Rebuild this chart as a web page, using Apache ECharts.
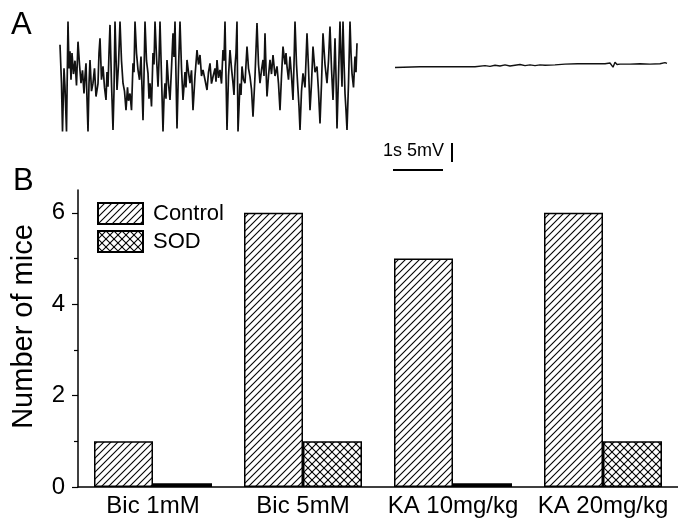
<!DOCTYPE html>
<html>
<head>
<meta charset="utf-8">
<script src="https://cdn.jsdelivr.net/npm/echarts@6/dist/echarts.min.js"></script>
<style>
  html, body { margin: 0; padding: 0; background: #fff; }
  #chart { width: 678px; height: 518px; }
</style>
</head>
<body>
<div id="chart"></div>
<script>
// panel A: EEG traces, [seconds, mV]
const controlTrace = [
  [0.00, 8.2], [0.03, -2.0], [0.05, -14.6], [0.08, 2.0], [0.10, -3.0], [0.13, -14.6],
  [0.16, 14.3], [0.18, 2.0], [0.20, 6.5], [0.22, -1.0], [0.24, 6.0], [0.27, 0.5],
  [0.30, 4.0], [0.33, -2.5], [0.36, 9.0], [0.39, 3.0], [0.42, -1.9], [0.45, 1.5],
  [0.48, -4.6], [0.50, 0.0], [0.52, 3.3], [0.54, -6.0], [0.56, -14.6], [0.58, -2.0],
  [0.60, 4.2], [0.63, -4.0], [0.66, -1.9], [0.69, 2.0], [0.72, -5.4], [0.76, -2.0],
  [0.78, 6.0], [0.80, 9.9], [0.83, -1.0], [0.86, 2.5], [0.89, -3.0], [0.92, -6.3],
  [0.94, 1.0], [0.96, -2.8], [0.98, 6.0], [1.00, 13.4], [1.03, -2.0], [1.06, -14.2],
  [1.08, -4.0], [1.10, 14.3], [1.12, 5.0], [1.14, -3.7], [1.17, 3.0], [1.20, 14.3],
  [1.23, 4.0], [1.26, -1.9], [1.29, -4.0], [1.32, -9.0], [1.35, -3.0], [1.37, -6.5],
  [1.40, -4.6], [1.43, -9.0], [1.46, 3.3], [1.48, 1.0], [1.50, 14.3], [1.53, 6.0],
  [1.56, 1.6], [1.59, -1.0], [1.62, 5.1], [1.64, -3.0], [1.66, -11.6], [1.68, 0.0],
  [1.70, 14.3], [1.73, 4.0], [1.76, 0.7], [1.78, -6.0], [1.80, -1.9], [1.83, -8.0],
  [1.86, 6.0], [1.88, 3.0], [1.90, 14.3], [1.93, 5.0], [1.96, -2.8], [1.98, 4.0],
  [2.00, 14.3], [2.03, 0.0], [2.06, -14.6], [2.08, -6.0], [2.10, -1.9], [2.12, -6.0],
  [2.14, 4.2], [2.17, -2.0], [2.20, -6.3], [2.23, 2.0], [2.26, 11.2], [2.28, 5.0],
  [2.30, 14.3], [2.32, 0.0], [2.34, -13.8], [2.37, 2.0], [2.40, 14.3], [2.43, 2.0],
  [2.46, -6.3], [2.50, 1.0], [2.52, -3.0], [2.54, 4.2], [2.57, 1.0], [2.60, -1.9],
  [2.63, 1.5], [2.66, -9.0], [2.70, 0.0], [2.74, 6.8], [2.77, 3.0], [2.80, 5.5],
  [2.83, 0.0], [2.86, 1.6], [2.90, -1.0], [2.94, -3.7], [2.97, 1.0], [3.00, 3.3],
  [3.03, -2.0], [3.06, -0.2], [3.10, 2.0], [3.12, -1.5], [3.14, 4.2], [3.17, -0.5],
  [3.20, 1.6], [3.23, -2.0], [3.26, 6.8], [3.28, 4.0], [3.30, 14.3], [3.32, 0.0],
  [3.34, -14.2], [3.37, 0.0], [3.40, 6.8], [3.43, 2.0], [3.46, -1.9], [3.48, -5.0],
  [3.50, 2.5], [3.52, 6.0], [3.54, 14.3], [3.55, 0.0], [3.56, -14.6], [3.60, -2.0],
  [3.62, -5.0], [3.64, 2.5], [3.67, -1.0], [3.70, -1.9], [3.72, 3.0], [3.74, 7.7],
  [3.77, 2.0], [3.80, -0.2], [3.83, -3.5], [3.86, -10.7], [3.90, 0.0], [3.94, 13.9],
  [3.97, 3.0], [4.00, -1.9], [4.03, 1.5], [4.06, 4.2], [4.08, 0.0], [4.10, 11.2],
  [4.12, 2.0], [4.14, -5.4], [4.17, 0.0], [4.20, 4.2], [4.23, 0.5], [4.26, 5.5],
  [4.30, 0.0], [4.34, 2.5], [4.37, -2.0], [4.40, -9.0], [4.43, 0.0], [4.46, 7.7],
  [4.50, 3.0], [4.52, 6.0], [4.54, 2.5], [4.57, -1.0], [4.60, 5.1], [4.63, 0.0],
  [4.66, -6.3], [4.68, 3.0], [4.70, 14.3], [4.73, 3.0], [4.76, -3.7], [4.78, -8.0],
  [4.80, -14.2], [4.83, -4.0], [4.86, 0.7], [4.90, -3.0], [4.94, 11.2], [4.97, 2.0],
  [5.00, -9.0], [5.03, -2.0], [5.06, 7.7], [5.10, 1.0], [5.14, 2.5], [5.17, -4.0],
  [5.20, -12.5], [5.23, -2.0], [5.26, 11.2], [5.30, 3.0], [5.34, -1.9], [5.37, 4.0],
  [5.40, 13.0], [5.43, 2.0], [5.46, -6.3], [5.48, 1.0], [5.50, 9.9], [5.52, 0.0],
  [5.54, -13.8], [5.57, 0.0], [5.60, 14.3], [5.62, 5.0], [5.64, -2.8], [5.65, 6.0],
  [5.66, 14.3], [5.68, 4.0], [5.70, -4.6], [5.72, -9.0], [5.74, -14.2], [5.77, -2.0],
  [5.80, 14.3], [5.82, 6.0], [5.84, 0.7], [5.87, -3.0], [5.90, 5.1], [5.92, 1.0],
  [5.94, 8.6]
];
const sodTrace = [
  [6.70, 2.2], [7.20, 2.4], [7.80, 2.4], [8.30, 2.4], [8.50, 2.7], [8.60, 2.5],
  [8.70, 2.8], [8.80, 2.6], [8.90, 2.9], [9.00, 2.6], [9.10, 2.8], [9.20, 3.0],
  [9.30, 2.7], [9.40, 2.9], [9.50, 2.7], [9.60, 2.9], [9.70, 2.8], [9.90, 2.9],
  [10.10, 3.1], [10.35, 3.2], [10.50, 3.2], [10.70, 3.2], [10.90, 3.2], [11.00, 3.4],
  [11.04, 3.2], [11.06, 2.3], [11.10, 3.6], [11.14, 3.0], [11.20, 3.1], [11.40, 3.1],
  [11.60, 3.2], [11.80, 3.1], [12.00, 3.2], [12.10, 3.5], [12.14, 3.3]
];
const scaleBarSec = 1;
const scaleBarMv = 5;

// panel B: bar chart
const categories = ["Bic 1mM", "Bic 5mM", "KA 10mg/kg", "KA 20mg/kg"];
const controlMice = [1, 6, 5, 6];
const sodMice = [0.08, 1, 0.08, 1];
const yTicks = [0, 2, 4, 6];
const yMinorTicks = [1, 3, 5];

const font = "Liberation Sans, Arial, sans-serif";

const makePattern = (cross) => {
  const size = cross ? 8 : 7;
  const c = document.createElement("canvas");
  c.width = size;
  c.height = size;
  const ctx = c.getContext("2d");
  ctx.fillStyle = "#fff";
  ctx.fillRect(0, 0, size, size);
  ctx.strokeStyle = "#000";
  ctx.lineWidth = 1.1;
  const diag = (x0, y0, x1, y1) => {
    ctx.beginPath();
    ctx.moveTo(x0, y0);
    ctx.lineTo(x1, y1);
    ctx.stroke();
  };
  diag(-1, size + 1, size + 1, -1);
  diag(-1, 1, 1, -1);
  diag(size - 1, size + 1, size + 1, size - 1);
  if (cross) {
    diag(-1, -1, size + 1, size + 1);
    diag(size - 1, -1, size + 1, 1);
    diag(-1, size - 1, 1, size + 1);
  }
  return { image: c, repeat: "repeat" };
};

const chart = echarts.init(document.getElementById("chart"));
const sbX = 6.66;
const sbY = -24.7;
const vbX = 7.84;
const vbY = -17.6;

// near-zero bars show as a solid black strip in the figure
const sodData = sodMice.map((v) =>
  v < 0.5 ? { value: v, itemStyle: { color: "#000" } } : v
);

chart.setOption({
  animation: false,
  backgroundColor: "#fff",
  textStyle: { fontFamily: font, color: "#000" },
  graphic: [
    { type: "text", left: 11, top: 10, style: { text: "A", fontSize: 31, fontFamily: font, fill: "#000" } },
    { type: "text", left: 13, top: 166, style: { text: "B", fontSize: 31, fontFamily: font, fill: "#000" } },
    { type: "text", left: 383, top: 142, style: { text: "1s 5mV", fontSize: 18, fontFamily: font, fill: "#000" } },
  ],
  legend: {
    orient: "vertical",
    left: 97,
    top: 202,
    padding: 0,
    itemWidth: 45,
    itemHeight: 21,
    itemGap: 5,
    icon: "rect",
    textStyle: { fontSize: 22, lineHeight: 21, fontFamily: font, color: "#000", padding: [0, 0, 0, 5] },
    data: ["Control", "SOD"],
  },
  grid: [
    { left: 60, right: 11, top: 15, height: 160 },
    { left: 78, right: 0, top: 190, bottom: 28 },
  ],
  xAxis: [
    { type: "value", gridIndex: 0, min: 0, max: 12.14, show: false },
    {
      type: "category",
      gridIndex: 1,
      data: categories,
      axisLine: { lineStyle: { color: "#000", width: 1.5 } },
      axisTick: { length: 6, lineStyle: { color: "#000", width: 1.2 } },
      axisLabel: { interval: 0, fontSize: 24, color: "#000", fontFamily: font, margin: 7 },
    },
  ],
  yAxis: [
    { type: "value", gridIndex: 0, min: -26, max: 16, show: false },
    {
      type: "value",
      gridIndex: 1,
      position: "left",
      min: 0,
      max: 6.5,
      name: "Number of mice",
      nameLocation: "middle",
      nameGap: 40,
      nameTextStyle: { fontSize: 29, color: "#000", fontFamily: font, padding: [0, 0, 0, 24] },
      axisLine: { show: true, lineStyle: { color: "#000", width: 1.5 } },
      axisTick: { show: true, length: 6, customValues: yTicks, lineStyle: { color: "#000", width: 1.2 } },
      axisLabel: { customValues: yTicks, fontSize: 24, color: "#000", fontFamily: font, margin: 13 },
      splitLine: { show: false },
    },
    {
      type: "value",
      gridIndex: 1,
      position: "left",
      min: 0,
      max: 6.5,
      axisLine: { show: false },
      axisTick: { show: true, length: 4, customValues: yMinorTicks, lineStyle: { color: "#000", width: 1.2 } },
      axisLabel: { show: false },
      splitLine: { show: false },
    },
  ],
  series: [
    {
      type: "line",
      xAxisIndex: 0,
      yAxisIndex: 0,
      data: controlTrace,
      showSymbol: false,
      lineStyle: { color: "#111", width: 1.7 },
    },
    {
      type: "line",
      xAxisIndex: 0,
      yAxisIndex: 0,
      data: sodTrace,
      showSymbol: false,
      lineStyle: { color: "#111", width: 1.4 },
    },
    {
      type: "line",
      xAxisIndex: 0,
      yAxisIndex: 0,
      data: [[sbX, sbY], [sbX + scaleBarSec, sbY]],
      showSymbol: false,
      lineStyle: { color: "#000", width: 2 },
    },
    {
      type: "line",
      xAxisIndex: 0,
      yAxisIndex: 0,
      data: [[vbX, vbY], [vbX, vbY - scaleBarMv]],
      showSymbol: false,
      lineStyle: { color: "#000", width: 2 },
    },
    {
      name: "Control",
      type: "bar",
      xAxisIndex: 1,
      yAxisIndex: 1,
      data: controlMice,
      barWidth: 59,
      barGap: "0%",
      itemStyle: { color: makePattern(false), borderColor: "#000", borderWidth: 1.5 },
    },
    {
      name: "SOD",
      type: "bar",
      xAxisIndex: 1,
      yAxisIndex: 1,
      data: sodData,
      barWidth: 59,
      barGap: "0%",
      itemStyle: { color: makePattern(true), borderColor: "#000", borderWidth: 1.5 },
    },
  ],
});
window.addEventListener("resize", () => {
  chart.resize();
});
</script>
</body>
</html>
